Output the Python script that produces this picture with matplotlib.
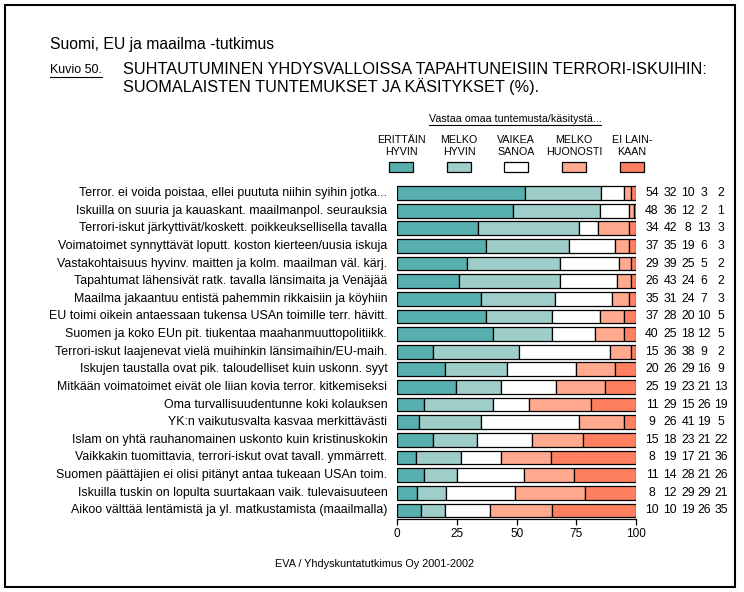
"""Suhtautuminen Yhdysvalloissa tapahtuneisiin terrori-iskuihin (Kuvio 50).

Output: out.png
"""
import matplotlib
matplotlib.use("Agg")
import matplotlib.pyplot as plt
import matplotlib.patches as mpatches
from matplotlib.lines import Line2D
import numpy as np

plt.rcParams["font.family"] = ["Liberation Sans", "DejaVu Sans"]

# ── data ─────────────────────────────────────────────────────────────────────
STATEMENTS = [
    "Terror. ei voida poistaa, ellei puututa niihin syihin jotka...",
    "Iskuilla on suuria ja kauaskant. maailmanpol. seurauksia",
    "Terrori-iskut järkyttivät/koskett. poikkeuksellisella tavalla",
    "Voimatoimet synnyttävät loputt. koston kierteen/uusia iskuja",
    "Vastakohtaisuus hyvinv. maitten ja kolm. maailman väl. kärj.",
    "Tapahtumat lähensivät ratk. tavalla länsimaita ja Venäjää",
    "Maailma jakaantuu entistä pahemmin rikkaisiin ja köyhiin",
    "EU toimi oikein antaessaan tukensa USAn toimille terr. hävitt.",
    "Suomen ja koko EUn pit. tiukentaa maahanmuuttopolitiikk.",
    "Terrori-iskut laajenevat vielä muihinkin länsimaihin/EU-maih.",
    "Iskujen taustalla ovat pik. taloudelliset kuin uskonn. syyt",
    "Mitkään voimatoimet eivät ole liian kovia terror. kitkemiseksi",
    "Oma turvallisuudentunne koki kolauksen",
    "YK:n vaikutusvalta kasvaa merkittävästi",
    "Islam on yhtä rauhanomainen uskonto kuin kristinuskokin",
    "Vaikkakin tuomittavia, terrori-iskut ovat tavall. ymmärrett.",
    "Suomen päättäjien ei olisi pitänyt antaa tukeaan USAn toim.",
    "Iskuilla tuskin on lopulta suurtakaan vaik. tulevaisuuteen",
    "Aikoo välttää lentämistä ja yl. matkustamista (maailmalla)",
]

ERITTAIN_HYVIN = [54, 48, 34, 37, 29, 26, 35, 37, 40, 15, 20, 25, 11, 9, 15, 8, 11, 8, 10]
MELKO_HYVIN    = [32, 36, 42, 35, 39, 43, 31, 28, 25, 36, 26, 19, 29, 26, 18, 19, 14, 12, 10]
VAIKEA_SANOA   = [10, 12, 8, 19, 25, 24, 24, 20, 18, 38, 29, 23, 15, 41, 23, 17, 28, 29, 19]
MELKO_HUONOSTI = [3, 2, 13, 6, 5, 6, 7, 10, 12, 9, 16, 21, 26, 19, 21, 21, 21, 29, 26]
EI_LAINKAAN    = [2, 1, 3, 3, 2, 2, 3, 5, 5, 2, 9, 13, 19, 5, 22, 36, 26, 21, 35]

CATEGORIES = ["ERITTÄIN\nHYVIN", "MELKO\nHYVIN", "VAIKEA\nSANOA",
              "MELKO\nHUONOSTI", "EI LAIN-\nKAAN"]
COLORS = ["#57AFAF", "#9ECDCA", "#FFFFFF", "#FFA98F", "#FF8060"]
XTICKS = [0, 25, 50, 75, 100]

W, H = 744, 592


def fx(px):
    return px / W


def fy(py):
    return 1 - py / H


def underline(fig, txt, lw=0.8):
    fig.canvas.draw()
    bb = txt.get_window_extent()
    y = bb.y0 - 1
    fig.add_artist(Line2D([bb.x0 / W, bb.x1 / W], [y / H, y / H],
                          transform=fig.transFigure, color="black", lw=lw))


def main() -> None:
    fig = plt.figure(figsize=(W / 100, H / 100), dpi=100)

    # outer frame
    fig.add_artist(mpatches.Rectangle((fx(5), fy(587)), fx(735) - fx(5), fy(5) - fy(587),
                                      transform=fig.transFigure, fill=False,
                                      edgecolor="black", lw=1.5))

    # ── header ───────────────────────────────────────────────────────────────
    fig.text(fx(50), fy(45), "Suomi, EU ja maailma -tutkimus", fontsize=11.3, va="center")
    kuvio = fig.text(fx(50), fy(70), "Kuvio 50.", fontsize=9, va="center")
    fig.text(fx(123), fy(70), "SUHTAUTUMINEN YHDYSVALLOISSA TAPAHTUNEISIIN TERRORI-ISKUIHIN:",
             fontsize=11.7, va="center")
    fig.text(fx(123), fy(87), "SUOMALAISTEN TUNTEMUKSET JA KÄSITYKSET (%).",
             fontsize=11.7, va="center")

    # ── bars ─────────────────────────────────────────────────────────────────
    ax = fig.add_axes([fx(397.3), fy(519.2), fx(636) - fx(397.3), fy(184.2) - fy(519.2)])
    data = np.array([ERITTAIN_HYVIN, MELKO_HYVIN, VAIKEA_SANOA,
                     MELKO_HUONOSTI, EI_LAINKAAN], dtype=float).T
    shares = data / data.sum(axis=1, keepdims=True) * 100
    y = np.arange(len(STATEMENTS))
    left = np.zeros(len(STATEMENTS))
    for j, color in enumerate(COLORS):
        ax.barh(y, shares[:, j], left=left, height=0.78, color=color,
                edgecolor="black", linewidth=0.9, zorder=2)
        left += shares[:, j]

    ax.set_xlim(0, 100)
    ax.set_ylim(len(STATEMENTS) - 0.5, -0.5)
    ax.set_xticks(XTICKS)
    ax.set_xticklabels([str(t) for t in XTICKS], fontsize=8.5)
    ax.tick_params(axis="x", length=4, width=0.9, pad=2)
    ax.set_yticks([])
    for side in ["top", "right", "left"]:
        ax.spines[side].set_visible(False)
    ax.spines["bottom"].set_linewidth(0.9)

    # statement labels and values
    num_x = [106.7, 114.3, 121.8, 128.5, 135.6]
    for i, label in enumerate(STATEMENTS):
        ax.text(-4.2, i, label, ha="right", va="center", fontsize=8.9, clip_on=False)
        for j, xx in enumerate(num_x):
            ax.text(xx, i, str(int(data[i, j])), ha="center", va="center",
                    fontsize=8.8, clip_on=False)

    # ── legend ───────────────────────────────────────────────────────────────
    vt = fig.text(fx(515), fy(119), "Vastaa omaa tuntemusta/käsitystä...",
                  fontsize=7.7, ha="center", va="center")
    centers = [401, 459, 516, 574, 632]
    for cx, cat, color in zip(centers, CATEGORIES, COLORS):
        fig.text(fx(cx), fy(146), cat, fontsize=7.7, ha="center", va="center",
                 linespacing=1.2)
        fig.add_artist(mpatches.Rectangle((fx(cx - 12), fy(172)), 24 / W, 10 / H,
                                          transform=fig.transFigure,
                                          facecolor=color, edgecolor="black", lw=0.9))

    fig.text(fx(275), fy(564), "EVA / Yhdyskuntatutkimus Oy 2001-2002",
             fontsize=7.8, va="center")

    underline(fig, kuvio)
    underline(fig, vt)

    fig.savefig("out.png", dpi=100)
    plt.close(fig)


if __name__ == "__main__":
    main()
